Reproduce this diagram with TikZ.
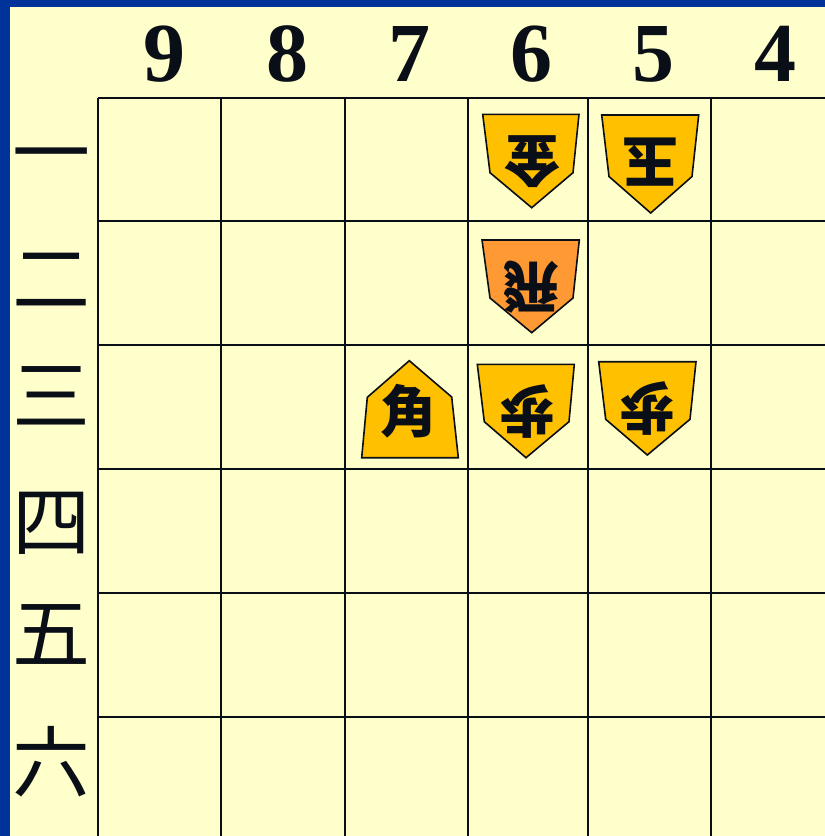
\documentclass[tikz,border=0pt]{standalone}
\usepackage{fontspec}
\setmainfont{Liberation Serif}
\newfontfamily\jpfont{Noto Sans CJK JP}
\usepackage{xcolor}
\usepackage{tikz}
\usetikzlibrary{positioning}
\definecolor{Frame}{HTML}{003399}
\definecolor{Board}{HTML}{FFFFCC}
\definecolor{Ink}{HTML}{0A0E16}
\definecolor{Gold}{HTML}{FFC000}
\definecolor{Hisha}{HTML}{FF9933}
\tikzset{
  gridline/.style={draw=Ink,line width=1.2pt},
  filenum/.style={inner sep=0pt,text=Ink,font=\fontsize{42}{42}\selectfont\bfseries},
  ranknum/.style={inner sep=0pt,text=Ink,text height=32pt,text depth=2.3pt,font=\jpfont\fontsize{39}{39}\selectfont},
  piece/.style={draw=Ink,line width=0.8pt,fill=Gold},
  pieceorange/.style={piece,fill=Hisha},
  glyph/.style={inner sep=0pt,text=Ink,font=\jpfont\bfseries\fontsize{28}{28}\selectfont},
  glyphgote/.style={glyph,rotate=180}
}
\begin{document}
\begin{tikzpicture}[x=0.5pt,y=-0.5pt]
  \useasboundingbox (0,0) rectangle (825,836);
  \fill[Board] (0,0) rectangle (825,836);
  \fill[Frame] (0,0) rectangle (10,836);
  \fill[Frame] (0,0) rectangle (825,7);
  % board
  \foreach \x in {98,221,345,468,588,711}
    \draw[gridline] (\x,98) -- (\x,836);
  \foreach \y in {98,221,345,469,593,717}
    \draw[gridline] (98,\y) -- (825,\y);
  % file and rank labels
  \foreach \n/\x in {9/164,8/287,7/409,6/531,5/653,4/775}
    \node[filenum] (file\n) at (\x,54) {\n};
  \foreach \k/\y [count=\r] in {一/152,二/278,三/395,四/521,五/633,六/762}
    \node[ranknum] (rank\r) at (51,\y) {\k};
  % gote pieces
  \draw[piece] (482.7,114.3) -- (579,114.3) -- (573,172.7) -- (531.7,207.7) -- (490,172.7) -- cycle;
  \node[glyphgote] (kin) at (532,162) {金};
  \draw[piece] (601.7,115) -- (698.7,115) -- (692,176.5) -- (650.7,213) -- (609,176.5) -- cycle;
  \node[glyphgote] (gyoku) at (650,162) {玉};
  \draw[pieceorange] (482,240) -- (579.3,240) -- (573,298) -- (531.7,332.7) -- (490,298) -- cycle;
  \node[glyphgote] (hisha) at (531,287) {飛};
  \draw[piece] (477.3,364.3) -- (574.3,364.3) -- (569,421.7) -- (526,457.7) -- (484.3,421.7) -- cycle;
  \node[glyphgote] (fu6) at (527,412) {歩};
  \draw[piece] (598.7,361.7) -- (696,361.7) -- (690,419.3) -- (647.3,455) -- (605.7,419.3) -- cycle;
  \node[glyphgote] (fu5) at (647,409) {歩};
  % sente piece
  \draw[piece] (409.3,360.7) -- (451.7,397) -- (458.3,457.7) -- (361.7,457.7) -- (367.3,397.3) -- cycle;
  \node[glyph] (kaku) at (408,411) {角};
\end{tikzpicture}
\end{document}
